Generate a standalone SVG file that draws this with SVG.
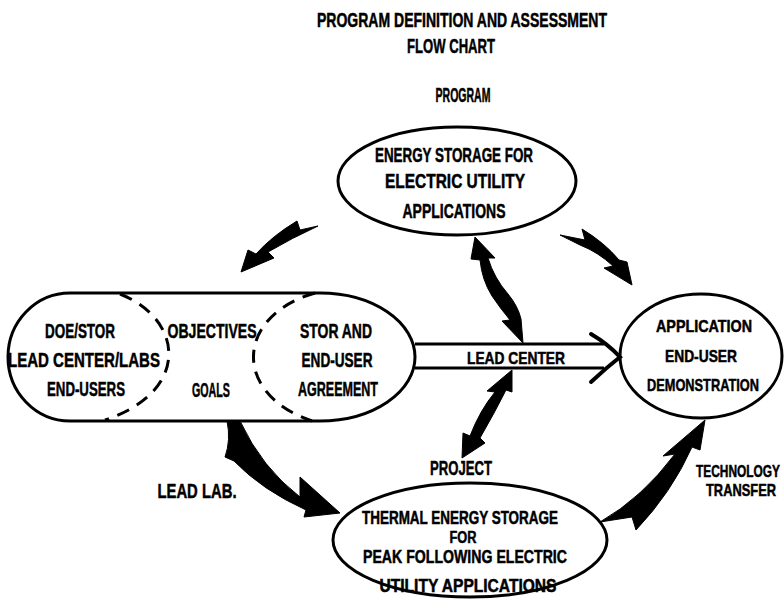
<svg xmlns="http://www.w3.org/2000/svg" width="784" height="600" viewBox="0 0 784 600">
<style>
text{font-family:"Liberation Sans","DejaVu Sans",sans-serif;font-weight:bold;font-size:20px;fill:#000;stroke:#000;stroke-width:0.5;text-anchor:middle}
.sm{font-size:17px}
.node{fill:none;stroke:#000;stroke-width:3}
.dash{fill:none;stroke:#000;stroke-width:3;stroke-dasharray:13 9}
.arrow{fill:#000;stroke:#000;stroke-width:1;stroke-linejoin:round}
.line{fill:none;stroke:#000;stroke-width:3}
.barb{fill:none;stroke:#000;stroke-width:4;stroke-linecap:round}
</style>
<rect width="784" height="600" fill="#fff"/>
<g id="title">
<text x="462" y="27" textLength="290" lengthAdjust="spacingAndGlyphs">PROGRAM DEFINITION AND ASSESSMENT</text>
<text x="451" y="53" textLength="88" lengthAdjust="spacingAndGlyphs">FLOW CHART</text>
</g>
<g id="label-program"><text x="463" y="102" textLength="55" lengthAdjust="spacingAndGlyphs">PROGRAM</text></g>
<g id="node-program">
<ellipse class="node" cx="457" cy="181" rx="119" ry="54"/>
<text x="454" y="162" textLength="158" lengthAdjust="spacingAndGlyphs">ENERGY STORAGE FOR</text>
<text x="455" y="188" textLength="140" lengthAdjust="spacingAndGlyphs">ELECTRIC UTILITY</text>
<text x="454" y="218" textLength="103" lengthAdjust="spacingAndGlyphs">APPLICATIONS</text>
</g>
<g id="node-definition">
<path class="node" d="M70,293 L320,293 A95,64 0 0 1 320,421 L70,421 A62,64 0 0 1 70,293 Z"/>
<path class="dash" d="M120,294 C185,320 190,392 105,420"/>
<path class="dash" d="M315,293 C235,316 232,394 312,421"/>
<text x="80" y="338" textLength="70" lengthAdjust="spacingAndGlyphs">DOE/STOR</text>
<text x="84" y="367" textLength="152" lengthAdjust="spacingAndGlyphs">LEAD CENTER/LABS</text>
<text x="86" y="396" textLength="78" lengthAdjust="spacingAndGlyphs">END-USERS</text>
<text x="212" y="338" textLength="89" lengthAdjust="spacingAndGlyphs">OBJECTIVES</text>
<text x="211" y="397" textLength="38" lengthAdjust="spacingAndGlyphs">GOALS</text>
<text x="336" y="338" textLength="72" lengthAdjust="spacingAndGlyphs">STOR AND</text>
<text x="337" y="367" textLength="71" lengthAdjust="spacingAndGlyphs">END-USER</text>
<text x="338" y="396" textLength="80" lengthAdjust="spacingAndGlyphs">AGREEMENT</text>
</g>
<g id="node-demonstration">
<ellipse class="node" cx="701" cy="356" rx="81" ry="62"/>
<text x="704" y="332" class="sm" textLength="96" lengthAdjust="spacingAndGlyphs">APPLICATION</text>
<text x="701" y="362" class="sm" textLength="72" lengthAdjust="spacingAndGlyphs">END-USER</text>
<text x="703" y="391" class="sm" textLength="112" lengthAdjust="spacingAndGlyphs">DEMONSTRATION</text>
</g>
<g id="node-project">
<ellipse class="node" cx="470" cy="540" rx="137" ry="57"/>
<text x="460" y="524" style="font-size:18px" textLength="196" lengthAdjust="spacingAndGlyphs">THERMAL ENERGY STORAGE</text>
<text x="463" y="543" style="font-size:16px" textLength="27" lengthAdjust="spacingAndGlyphs">FOR</text>
<text x="465" y="563" style="font-size:18px" textLength="204" lengthAdjust="spacingAndGlyphs">PEAK FOLLOWING ELECTRIC</text>
<text x="468" y="592" style="font-size:18px" textLength="177" lengthAdjust="spacingAndGlyphs">UTILITY APPLICATIONS</text>
</g>
<g id="labels">
<text x="516" y="364" class="sm" textLength="98" lengthAdjust="spacingAndGlyphs">LEAD CENTER</text>
<text x="461" y="475" textLength="62" lengthAdjust="spacingAndGlyphs">PROJECT</text>
<text x="197" y="498" textLength="79" lengthAdjust="spacingAndGlyphs">LEAD LAB.</text>
<text x="738" y="477" class="sm" textLength="84" lengthAdjust="spacingAndGlyphs">TECHNOLOGY</text>
<text x="741" y="496" class="sm" textLength="70" lengthAdjust="spacingAndGlyphs">TRANSFER</text>
</g>
<g id="connectors">
<path class="arrow" d="M241,272 L248,250 L256,254 Q272,236 297,221 L300,230 L318,226 Q292,238 268,252 L274,258 Z"/>
<path class="arrow" d="M560,235 L585,240 L582,229 Q605,243 619,260 L627,262 L632,285 L604,268 L613,266 Q598,252 580,245 Z"/>
<path class="arrow" d="M475,237 L495,258 L488,258 Q494,278 508,294 Q518,306 521,319 L523,343 L502,321 L510,320 Q500,308 492,296 Q482,280 480,260 L471,259 Z"/>
<path class="arrow" d="M512,370 L512,392 L506,390 Q495,412 480,438 L485,443 L462,458 L463,433 L470,436 Q480,410 495,392 L487,391 Z"/>
<path class="arrow" d="M227,421 L240,421 Q262,468 300,497 L300,477 L340,513 L304,517 L306,510 Q262,490 234,461 L225,457 Q231,440 227,421 Z"/>
<path class="arrow" d="M600,522 Q642,498 675,454 L663,456 L705,420 L700,450 L692,447 Q672,492 636,530 L632,517 Z"/>
<line class="line" x1="415" y1="344" x2="604" y2="344"/>
<line class="line" x1="415" y1="368" x2="604" y2="368"/>
<path class="barb" d="M591,334 Q608,344 620,357 Q606,368 591,382"/>
</g>
</svg>
